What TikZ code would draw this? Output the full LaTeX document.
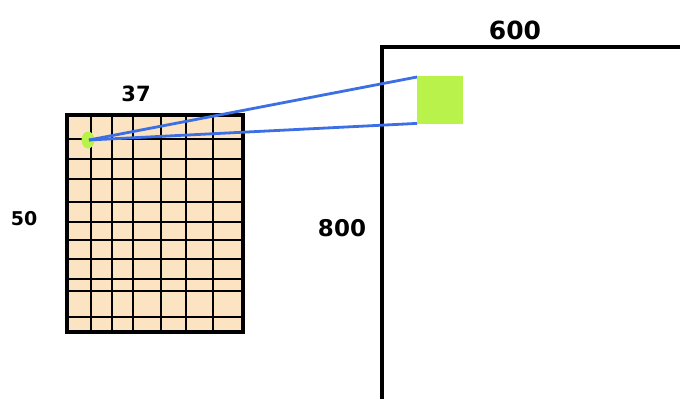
\documentclass[tikz,border=0pt]{standalone}
\usepackage{fontspec}
\setmainfont{DejaVu Sans}
\usetikzlibrary{shapes.geometric}
\definecolor{gridfill}{HTML}{FCE3C2}
\definecolor{pixgreen}{HTML}{B8F24A}
\definecolor{rayblue}{HTML}{3B6FE3}
\begin{document}
\begin{tikzpicture}[x=1pt,y=-1pt,
  gridline/.style={line width=2.8pt,black},
  ray/.style={line width=2.8pt,rayblue},
  lbl/.style={inner sep=0pt,font=\bfseries\fontsize{#1}{#1}\selectfont},
  lbl/.default=24]
\useasboundingbox (0,0) rectangle (680,399);
% small grid
\fill[gridfill] (67,115) rectangle (243,332);
\foreach \y in {139,159,179,202,222,240,259,279,291,317}
  \draw[gridline] (67,\y) -- (243,\y);
\foreach \x in {91,112,133,161,186,213}
  \draw[gridline] (\x,115) -- (\x,332);
\draw[line width=3.2pt] (67,115) rectangle (243,332);
% big canvas
\draw[line width=4.2pt] (680,47) -- (382,47) -- (382,399);
% green pixel and square
\node[ellipse,fill=pixgreen,minimum width=13pt,minimum height=17pt,inner sep=0pt] (dot) at (88,140) {};
\node[fill=pixgreen,minimum width=46pt,minimum height=48pt,inner sep=0pt,anchor=north west] (sq) at (417,76) {};
\coordinate (dc) at (89,140);
\draw[ray] (dc) -- ([yshift=-1pt]sq.north west);
\draw[ray] (dc) -- ([yshift=1pt]sq.south west);
% labels
\node[lbl=21] (l37) at (136,94) {37};
\node[lbl=25] (l600) at (515,30) {600};
\node[lbl=19] (l50) at (24,219) {50};
\node[lbl=23] (l800) at (342,228) {800};
\end{tikzpicture}
\end{document}
